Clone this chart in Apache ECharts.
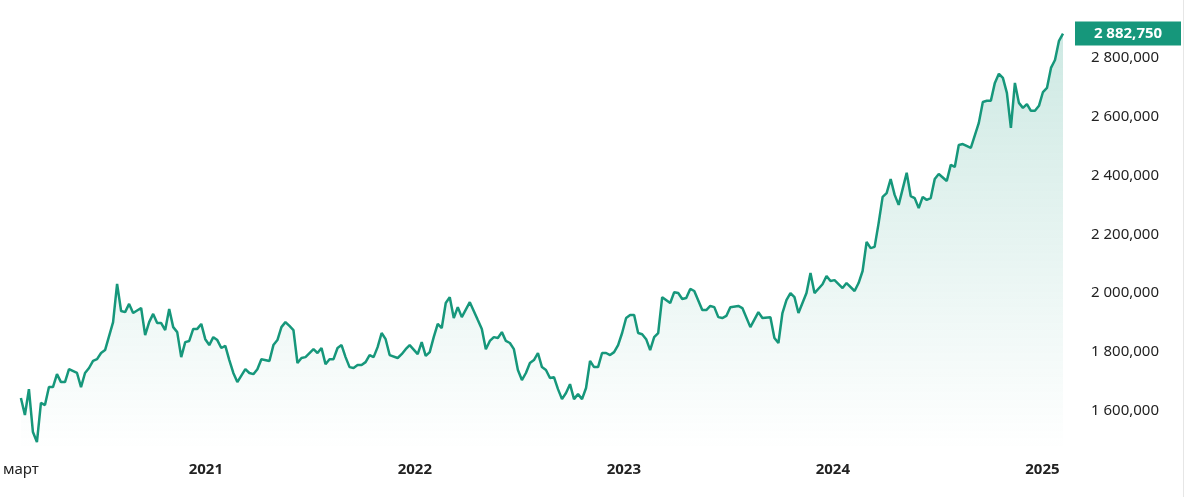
<!DOCTYPE html>
<html>
<head>
    <meta charset="UTF-8">
    <title>chart</title>
    <script src="https://cdn.jsdelivr.net/npm/echarts@6/dist/echarts.min.js"></script>
    <style>
        body { margin: 0; background: #fff; }
        #main { width: 1200px; height: 497px; }
    </style>
</head>
<body>
    <div id="main"></div>
    <script>
        // week number from start date, value in thousands
        var startDate = '2020-02-13';
        var weeks = [0,1,2,3,4,5,6,7,8,9,10,11,12,14,15,16,17,18,19,20,21,23,24,25,26,27,28,30,31,32,33,34,35,36,37,38,39,40,41,42,43,44,45,46,47,48,49,50,51,52,53,54,56,57,58,59,60,62,63,64,65,66,67,68,69,70,71,73,74,75,76,77,78,79,80,81,82,83,84,85,86,87,88,89,90,91,92,94,95,96,97,99,100,101,102,103,104,105,106,107,108,109,110,112,114,115,116,117,118,119,120,121,122,123,124,125,126,127,128,129,130,131,132,133,134,135,136,137,138,139,140,141,142,143,144,145,146,147,148,149,150,151,152,153,154,155,156,157,158,159,160,162,163,164,165,166,167,168,170,171,172,173,174,175,176,177,179,180,182,184,185,187,188,189,190,191,192,193,194,195,196,197,198,200,201,202,203,205,206,208,209,210,211,212,213,214,215,216,217,218,219,221,222,223,224,225,226,227,228,229,231,232,233,234,235,237,239,240,241,242,243,244,245,246,247,248,249,250,251,252,253,254,255,256,257,258,259,260];
        var values = [1643,1585,1673,1527,1493,1626,1619,1680,1680,1724,1697,1697,1741,1728,1680,1728,1745,1769,1775,1796,1806,1901,2031,1939,1935,1963,1932,1949,1857,1901,1929,1898,1898,1874,1946,1884,1867,1782,1833,1837,1878,1878,1895,1843,1823,1850,1840,1813,1820,1772,1728,1697,1741,1728,1724,1741,1775,1769,1823,1840,1884,1901,1888,1874,1762,1779,1782,1809,1796,1813,1758,1775,1775,1813,1823,1782,1748,1745,1755,1755,1765,1789,1782,1816,1864,1843,1789,1779,1792,1809,1823,1792,1833,1786,1799,1850,1895,1881,1966,1986,1915,1952,1918,1969,1908,1878,1809,1837,1850,1847,1867,1837,1830,1809,1738,1704,1728,1762,1772,1796,1748,1738,1711,1714,1673,1639,1660,1690,1639,1656,1639,1677,1769,1748,1748,1796,1796,1789,1799,1823,1864,1915,1925,1925,1864,1860,1843,1806,1850,1864,1986,1966,2003,2000,1980,1983,2014,2007,1942,1942,1956,1952,1918,1915,1922,1952,1956,1949,1884,1935,1915,1918,1847,1830,1932,1976,2000,1986,1932,1966,2000,2068,2000,2030,2058,2041,2044,2017,2034,2007,2034,2075,2174,2153,2157,2238,2327,2340,2388,2334,2300,2409,2330,2323,2289,2327,2317,2323,2388,2405,2381,2436,2429,2504,2507,2494,2579,2650,2654,2654,2715,2746,2732,2681,2562,2715,2647,2630,2643,2620,2620,2637,2684,2698,2766,2793,2858,2882.75];
        var yTicks = [1600000,1800000,2000000,2200000,2400000,2600000,2800000];
        var yearTicks = ['2021-01-01','2022-01-01','2023-01-01','2024-01-01','2025-01-01'];

        var t0 = new Date(startDate + 'T00:00:00Z').getTime();
        var data = weeks.map(function (w, i) {
            return [t0 + w * 7 * 86400000, values[i] * 1000];
        });
        var lastPoint = data[data.length - 1];
        var xTicks = [t0].concat(yearTicks.map(function (d) { return new Date(d + 'T00:00:00Z').getTime(); }));

        function fmt(v) {
            var m = Math.floor(v / 1e6);
            var rest = Math.round(v - m * 1e6);
            var s = String(rest);
            while (s.length < 6) s = '0' + s;
            return m + ' ' + s.slice(0, 3) + ',' + s.slice(3);
        }

        var green = '#16977b';
        var chart = echarts.init(document.getElementById('main'), null, {renderer: 'canvas'});
        chart.setOption({
            animation: false,
            textStyle: {fontFamily: 'Noto Sans'},
            grid: {left: 17, right: 137, top: 10, bottom: 47},
            xAxis: {
                type: 'value',
                min: t0,
                max: lastPoint[0],
                axisLine: {show: false},
                axisTick: {show: false},
                splitLine: {show: false},
                axisLabel: {
                    customValues: xTicks,
                    margin: 12,
                    fontSize: 15,
                    color: '#222',
                    formatter: function (v) {
                        if (v === t0) return 'март';
                        return '{b|' + new Date(v).getUTCFullYear() + '}';
                    },
                    rich: {b: {fontWeight: 'bold', fontSize: 15, color: '#222'}}
                }
            },
            yAxis: {
                type: 'value',
                position: 'right',
                min: 1466000,
                max: 2963000,
                axisLine: {show: false},
                axisTick: {show: false},
                splitLine: {show: false},
                axisLabel: {
                    customValues: yTicks,
                    margin: 28,
                    fontSize: 15,
                    color: '#222',
                    formatter: fmt
                }
            },
            series: [{
                type: 'line',
                data: data,
                symbol: 'none',
                lineStyle: {color: green, width: 2.5},
                areaStyle: {
                    color: new echarts.graphic.LinearGradient(0, 0, 0, 1, [
                        {offset: 0, color: 'rgba(22,151,123,0.30)'},
                        {offset: 1, color: 'rgba(22,151,123,0.0)'}
                    ])
                }
            }]
        });

        var py = chart.convertToPixel({gridIndex: 0}, lastPoint)[1];
        chart.setOption({
            graphic: [{
                type: 'rect',
                shape: {x: 1075, y: py - 12, width: 106, height: 24},
                style: {fill: green}
            }, {
                type: 'text',
                x: 1128, y: py,
                style: {text: fmt(lastPoint[1]), fill: '#fff', fontSize: 15, fontFamily: 'Noto Sans', fontWeight: 'bold', align: 'center', verticalAlign: 'middle'}
            }, {
                type: 'rect',
                shape: {x: 1183, y: 0, width: 1, height: 497},
                style: {fill: '#e6e6e6'}
            }]
        });
    </script>
</body>
</html>
